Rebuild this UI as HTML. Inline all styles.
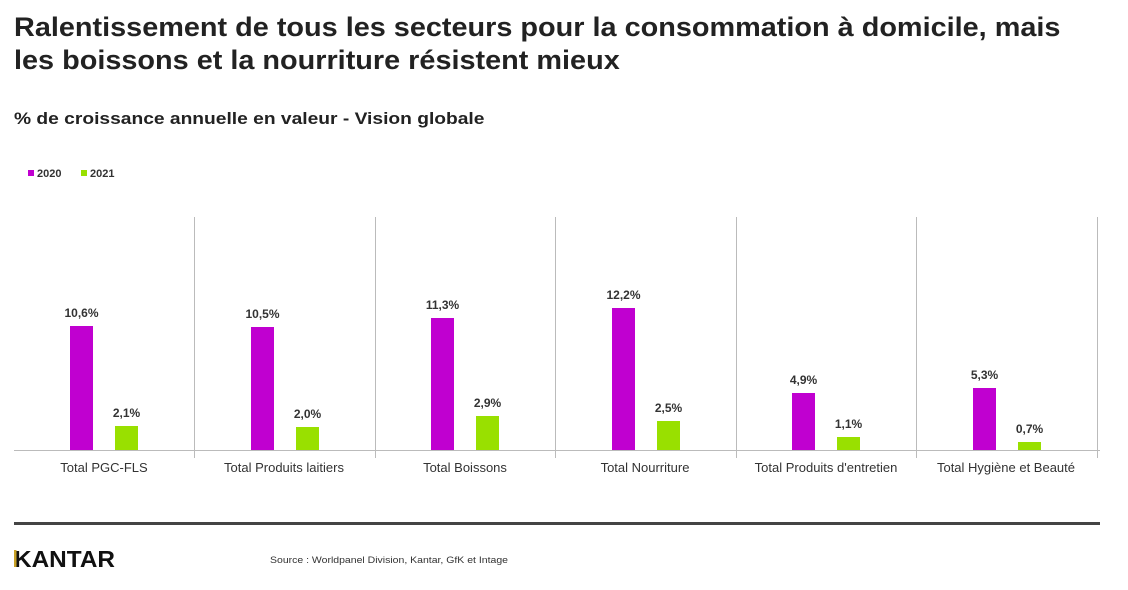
<!DOCTYPE html>
<html><head><meta charset="utf-8"><style>
body{margin:0;width:1128px;height:590px;background:#fff;overflow:hidden;font-family:"Liberation Sans",sans-serif;position:relative}
.t{position:absolute;left:14px;top:11px;font-size:27px;font-weight:bold;color:#222;line-height:33px;transform:scaleX(1.068);transform-origin:0 0;white-space:nowrap}
.s{position:absolute;left:14px;top:109px;font-size:17px;font-weight:bold;color:#222;transform:scaleX(1.13);transform-origin:0 0;white-space:nowrap}
</style></head><body>
<div class="t">Ralentissement de tous les secteurs pour la consommation à domicile, mais<br>les boissons et la nourriture résistent mieux</div>
<div class="s">% de croissance annuelle en valeur - Vision globale</div>
<svg width="1128" height="590" style="position:absolute;left:0;top:0" font-family="Liberation Sans, sans-serif">
<rect x="28" y="170" width="6" height="6" fill="#c000d0"/><text x="37" y="177" font-size="11" font-weight="bold" fill="#333">2020</text>
<rect x="81" y="170" width="6" height="6" fill="#99e000"/><text x="90" y="177" font-size="11" font-weight="bold" fill="#333">2021</text>
<g stroke="#bbb" stroke-width="1">
<line x1="14" y1="450.5" x2="1100" y2="450.5"/>
<line x1="194.5" y1="217" x2="194.5" y2="458"/><line x1="375.5" y1="217" x2="375.5" y2="458"/>
<line x1="555.5" y1="217" x2="555.5" y2="458"/><line x1="736.5" y1="217" x2="736.5" y2="458"/>
<line x1="916.5" y1="217" x2="916.5" y2="458"/><line x1="1097.5" y1="217" x2="1097.5" y2="458"/>
</g>
<g font-size="12" font-weight="bold" fill="#333" text-anchor="middle">
<rect x="70" y="326" width="23" height="124" fill="#c000d0"/><text x="81.5" y="317">10,6%</text>
<rect x="115" y="426" width="23" height="24" fill="#99e000"/><text x="126.5" y="417">2,1%</text>
<rect x="251" y="327" width="23" height="123" fill="#c000d0"/><text x="262.5" y="318">10,5%</text>
<rect x="296" y="427" width="23" height="23" fill="#99e000"/><text x="307.5" y="418">2,0%</text>
<rect x="431" y="318" width="23" height="132" fill="#c000d0"/><text x="442.5" y="309">11,3%</text>
<rect x="476" y="416" width="23" height="34" fill="#99e000"/><text x="487.5" y="407">2,9%</text>
<rect x="612" y="308" width="23" height="142" fill="#c000d0"/><text x="623.5" y="299">12,2%</text>
<rect x="657" y="421" width="23" height="29" fill="#99e000"/><text x="668.5" y="412">2,5%</text>
<rect x="792" y="393" width="23" height="57" fill="#c000d0"/><text x="803.5" y="384">4,9%</text>
<rect x="837" y="437" width="23" height="13" fill="#99e000"/><text x="848.5" y="428">1,1%</text>
<rect x="973" y="388" width="23" height="62" fill="#c000d0"/><text x="984.5" y="379">5,3%</text>
<rect x="1018" y="442" width="23" height="8" fill="#99e000"/><text x="1029.5" y="433">0,7%</text>
</g>
<g font-size="13" fill="#333" text-anchor="middle">
<text x="104" y="472">Total PGC-FLS</text><text x="284" y="472">Total Produits laitiers</text>
<text x="465" y="472">Total Boissons</text><text x="645" y="472">Total Nourriture</text>
<text x="826" y="472">Total Produits d'entretien</text><text x="1006" y="472">Total Hygiène et Beauté</text>
</g>
<rect x="14" y="522" width="1086" height="3" fill="#444"/>
<text x="14" y="567" font-size="23" font-weight="bold" fill="#111" textLength="101" lengthAdjust="spacingAndGlyphs">KANTAR</text>
<rect x="14" y="550" width="2.5" height="17" fill="#c9a227"/>
<text x="270" y="563" font-size="9" fill="#333" textLength="238" lengthAdjust="spacingAndGlyphs">Source : Worldpanel Division, Kantar, GfK et Intage</text>
</svg>
</body></html>
